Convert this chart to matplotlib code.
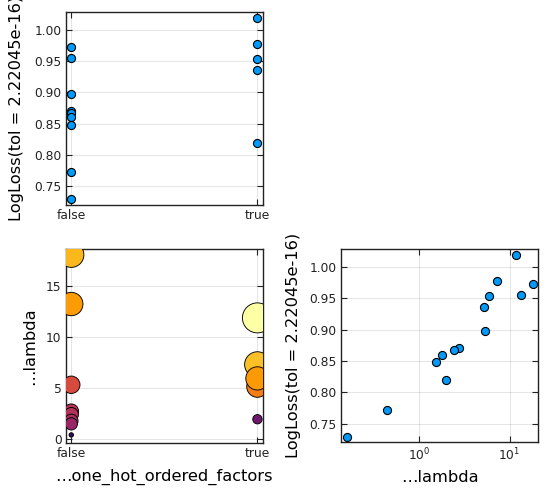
import numpy as np
import matplotlib
matplotlib.use("Agg")
import matplotlib.pyplot as plt
from matplotlib.ticker import FixedLocator, NullLocator, LogLocator

# Data
ohe = [0, 0, 0, 0, 0, 0, 0, 0, 0, 1, 1, 1, 1, 1]
lam = [18.0, 13.2, 5.33, 2.75, 2.42, 1.81, 1.52, 0.438, 0.158,
       11.85, 7.30, 5.15, 5.95, 1.97]
loss = [0.973, 0.955, 0.8976, 0.870, 0.867, 0.860, 0.848, 0.772, 0.729,
        1.0196, 0.977, 0.936, 0.954, 0.8195]
cat_labels = ["false", "true"]
loss_ticks = [0.75, 0.80, 0.85, 0.90, 0.95, 1.00]
lam_ticks = [0, 5, 10, 15]
ylab = "LogLoss(tol = 2.22045e-16)"

ohe = np.array(ohe, float)
lam = np.array(lam)
loss = np.array(loss)

plt.rcParams['font.family'] = ['DejaVu Sans']
fig = plt.figure(figsize=(5.5, 5.0), dpi=100)

W, H = 550, 500
def axbox(l, t, r, b):
    return [l / W, 1 - b / H, (r - l) / W, (b - t) / H]

blue = "#009AFA"
LFS = 11.7

def style(ax):
    for s in ax.spines.values():
        s.set_color("#222222")
        s.set_linewidth(1.0)
    ax.tick_params(direction="in", length=4, width=0.8, top=True, right=True,
                   labelsize=8.8, colors="#222222", pad=3)
    ax.grid(True, color="#000000", alpha=0.1, linewidth=0.8)
    ax.set_axisbelow(True)
    ax.margins(0.03)

# Top-left
ax1 = fig.add_axes(axbox(65.7, 12.3, 263, 204.7))
ax1.scatter(ohe, loss, s=34, c=blue, edgecolors="black", linewidths=0.8, zorder=3)
style(ax1)
ax1.xaxis.set_major_locator(FixedLocator([0, 1]))
ax1.set_xticklabels(cat_labels)
ax1.yaxis.set_major_locator(FixedLocator(loss_ticks))
ax1.set_yticklabels([f"{v:.2f}" for v in loss_ticks])
ax1.set_ylabel(ylab, fontsize=LFS, labelpad=7)

# Bottom-left
ax2 = fig.add_axes(axbox(65.7, 249.3, 263, 443.3))
t = (loss - loss.min()) / (loss.max() - loss.min())
d_px = 30 * t
s = (d_px * 72 / 100) ** 2
ax2.scatter(ohe, lam, s=s, c=loss, cmap="inferno",
            vmin=loss.min(), vmax=loss.max(), edgecolors="black", linewidths=0.65, zorder=3)
style(ax2)
ax2.xaxis.set_major_locator(FixedLocator([0, 1]))
ax2.set_xticklabels(cat_labels)
ax2.yaxis.set_major_locator(FixedLocator(lam_ticks))
ax2.set_yticklabels([str(v) for v in lam_ticks])
ax2.set_xlabel("…one_hot_ordered_factors", fontsize=LFS, labelpad=6)
ax2.set_ylabel("…lambda", fontsize=LFS, labelpad=6)

# Bottom-right
ax3 = fig.add_axes(axbox(341, 249.3, 538.3, 442.3))
ax3.scatter(lam, loss, s=34, c=blue, edgecolors="black", linewidths=0.8, zorder=3)
ax3.set_xscale("log")
style(ax3)
ax3.xaxis.set_major_locator(LogLocator(base=10, numticks=10))
ax3.xaxis.set_minor_locator(NullLocator())
ax3.yaxis.set_major_locator(FixedLocator(loss_ticks))
ax3.set_yticklabels([f"{v:.2f}" for v in loss_ticks])
ax3.set_xlabel("…lambda", fontsize=LFS, labelpad=5)
ax3.set_ylabel(ylab, fontsize=LFS, labelpad=6)

fig.savefig("out.png", dpi=100)
